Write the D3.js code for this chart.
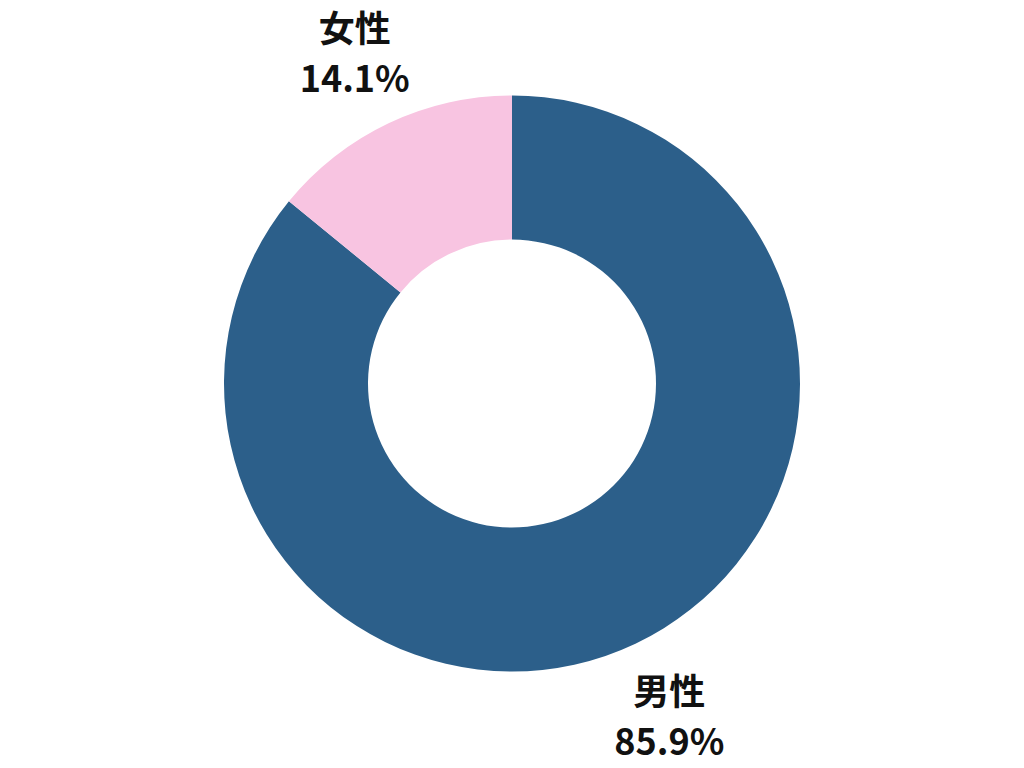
<!DOCTYPE html>
<html>
<head>
<meta charset="utf-8">
<script src="https://cdn.jsdelivr.net/npm/d3@7"></script>
<style>
  html, body { margin: 0; padding: 0; background: #fff; }
  svg { display: block; }
</style>
</head>
<body>
<div id="chart"></div>
<script>
const categories = ["男性", "女性"];
const values = [85.9, 14.1];
const colors = ["#2c5f8a", "#f8c4e1"];

const width = 1024;
const height = 768;
const cx = 512;
const cy = 383.5;
const outerRadius = 288;
const innerRadius = 144;
const labelRadius = 367;

const data = categories.map((name, i) => ({name, value: values[i]}));

const color = d3.scaleOrdinal().domain(categories).range(colors);

const pie = d3.pie().sort(null).value((d) => d.value);
const arc = d3.arc().innerRadius(innerRadius).outerRadius(outerRadius);
const labelArc = d3.arc().innerRadius(labelRadius).outerRadius(labelRadius);

const svg = d3
  .select("#chart")
  .append("svg")
  .attr("width", width)
  .attr("height", height)
  .attr("viewBox", [0, 0, width, height]);

const g = svg.append("g").attr("transform", `translate(${cx},${cy})`);

const arcs = pie(data);

g.selectAll("path")
  .data(arcs)
  .join("path")
  .attr("fill", (d) => color(d.data.name))
  .attr("d", arc);

const labels = g
  .selectAll("text")
  .data(arcs)
  .join("text")
  .attr("transform", (d) => `translate(${labelArc.centroid(d)})`)
  .attr("text-anchor", "middle")
  .attr("font-family", "'Noto Sans CJK JP', 'Noto Sans', sans-serif")
  .attr("font-weight", 700)
  .attr("font-size", 36)
  .attr("fill", "#111");

labels.append("tspan")
  .attr("x", 0)
  .attr("y", -10)
  .text((d) => d.data.name);

labels.append("tspan")
  .attr("x", 0)
  .attr("y", 40)
  .text((d) => `${d3.format(".1f")(d.data.value)}%`);
</script>
</body>
</html>
